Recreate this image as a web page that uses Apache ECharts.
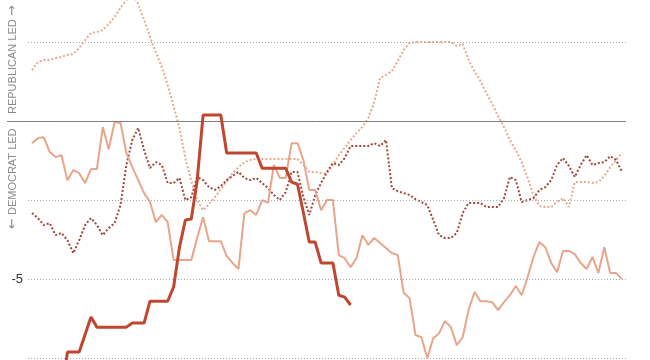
<!DOCTYPE html>
<html><head><meta charset="utf-8">
<script src="https://cdn.jsdelivr.net/npm/echarts@6/dist/echarts.min.js"></script>
<style>html,body{margin:0;padding:0;background:#fff}#c{width:650px;height:360px}</style>
</head><body><div id="c"></div>
<script>
// Day index 0..100 (shared x positions of the daily series)
const dayCount = 101;

// Light dotted series
const lightDotted = [
  1.61, 1.87, 1.93, 1.93, 1.99, 2.03, 2.09, 2.12, 2.31, 2.56,
  2.78, 2.82, 2.88, 3.07, 3.29, 3.58, 3.83, 4.05, 3.70, 3.20,
  2.66, 2.18, 1.71, 1.14, 0.47, -0.22, -1.17, -1.90, -2.50, -2.82,
  -2.63, -2.41, -2.15, -1.90, -1.65, -1.46, -1.30, -1.23, -1.20, -1.20,
  -1.20, -1.20, -1.20, -1.20, -1.20, -1.20, -1.39, -1.61, -1.61, -1.65,
  -1.65, -1.39, -1.08, -0.85, -0.60, -0.38, -0.19, 0.09, 0.60, 1.36,
  1.46, 1.58, 1.90, 2.25, 2.47, 2.50, 2.50, 2.50, 2.50, 2.50,
  2.50, 2.50, 2.37, 2.44, 1.93, 1.58, 1.27, 0.89, 0.54, 0.16,
  -0.19, -0.60, -0.92, -1.30, -1.80, -2.34, -2.69, -2.72, -2.72, -2.56,
  -2.44, -2.72, -1.93, -1.93, -1.93, -1.96, -1.93, -1.74, -1.46, -1.23,
  -1.01
];

// Light solid series
const lightSolid = [
  -0.70, -0.54, -0.51, -0.98, -1.14, -1.08, -1.87, -1.55, -1.65, -1.96,
  -1.52, -1.52, -0.19, -0.89, -0.03, -0.06, -1.01, -1.46, -1.87, -2.28,
  -2.56, -3.20, -2.97, -3.20, -4.40, -4.40, -4.40, -4.40, -3.70, -3.04,
  -3.80, -3.80, -3.80, -4.27, -4.49, -4.68, -2.91, -2.82, -2.97, -2.50,
  -2.59, -1.39, -1.80, -1.80, -0.70, -0.70, -1.23, -2.18, -2.18, -2.82,
  -2.50, -2.50, -4.24, -4.34, -4.62, -4.34, -3.61, -3.92, -3.70, -3.86,
  -4.02, -4.18, -4.24, -5.44, -5.60, -6.77, -6.84, -7.50, -6.87, -6.71,
  -6.33, -6.52, -7.09, -6.84, -5.98, -5.41, -5.70, -5.70, -5.73, -5.98,
  -5.73, -5.51, -5.22, -5.51, -4.94, -4.30, -3.83, -3.99, -4.49, -4.78,
  -4.11, -4.11, -4.21, -4.49, -4.68, -4.30, -4.81, -3.99, -4.81, -4.81,
  -5.00
];

// Dark dotted series
const darkDotted = [
  -2.91, -3.07, -3.29, -3.23, -3.61, -3.54, -3.77, -4.18, -3.77, -3.29,
  -3.07, -3.29, -3.61, -3.39, -3.23, -2.66, -1.39, -0.60, -0.22, -0.92,
  -1.49, -1.30, -1.39, -1.96, -1.96, -1.80, -2.50, -2.41, -1.77, -1.87,
  -2.09, -2.18, -2.06, -1.87, -1.74, -1.61, -1.80, -1.87, -1.80, -1.96,
  -2.12, -2.34, -2.50, -2.25, -1.61, -1.61, -2.41, -2.97, -2.34, -1.96,
  -1.61, -1.33, -1.39, -1.17, -0.79, -0.79, -0.79, -0.79, -0.70, -0.79,
  -0.60, -2.12, -2.22, -2.28, -2.34, -2.47, -2.56, -2.66, -3.13, -3.61,
  -3.70, -3.70, -3.54, -2.91, -2.59, -2.59, -2.59, -2.72, -2.72, -2.72,
  -2.44, -1.77, -1.87, -2.56, -2.50, -2.44, -2.18, -2.09, -1.87, -1.39,
  -1.17, -1.42, -1.77, -1.39, -1.08, -1.39, -1.33, -1.30, -1.11, -1.23,
  -1.61
];

// Thick dark series: [day, value] at its changes
const thickDays   = [5, 6, 8, 10, 11, 16, 17, 19, 20, 23, 24, 25, 26, 27, 28, 29, 32, 33, 38, 39, 43, 44, 45, 46, 47, 48, 49, 51, 52, 53, 54];
const thickValues = [-8.8, -7.31, -7.31, -6.20, -6.52, -6.52, -6.39, -6.39, -5.70, -5.70, -5.25, -3.99, -3.13, -3.10, -1.87, 0.19, 0.19, -1.01, -1.01, -1.49, -1.49, -1.93, -2.00, -2.90, -3.83, -3.83, -4.49, -4.49, -5.51, -5.57, -5.82];

// Horizontal reference lines and the one visible tick label
const gridValues = [2.5, -2.5, -5, -7.5];
const zeroValue = 0;
const tickLabels = { '-5': '-5' };

const X_MIN = -4.237, X_MAX = 100.68, GRID_START = -0.68;
const Y_MIN = -7.56, Y_MAX = 3.83;

const days = Array.from({ length: dayCount }, (_, i) => i);
const pair = (vals) => days.map((d, i) => [d, vals[i]]);

const chart = echarts.init(document.getElementById('c'), null, { renderer: 'canvas' });

const markLines = gridValues.map(v => ([
  { coord: [GRID_START, v],
    lineStyle: { color: '#a8a8a8', width: 1, type: [1, 2] },
    label: tickLabels[String(v)] ? {
      show: true, position: 'start', distance: 5, formatter: tickLabels[String(v)],
      color: '#333', fontSize: 13, fontFamily: 'Liberation Sans, Arial, sans-serif'
    } : { show: false } },
  { coord: [X_MAX, v] }
]));
markLines.push([
  { coord: [X_MIN, zeroValue], lineStyle: { color: '#808080', width: 1, type: 'solid' }, label: { show: false } },
  { coord: [X_MAX, zeroValue] }
]);

const FONT = 'Liberation Sans, Arial, sans-serif';
const sideRich = {
  t: { fill: '#8a8a8a', fontSize: 11, fontFamily: FONT },
  a: { fill: '#8a8a8a', fontSize: 13, fontFamily: 'DejaVu Sans, sans-serif' }
};

chart.setOption({
  animation: false,
  backgroundColor: '#fff',
  grid: { left: 7, right: 24, top: 0, bottom: 0 },
  xAxis: { type: 'value', min: X_MIN, max: X_MAX, show: false },
  yAxis: { type: 'value', min: Y_MIN, max: Y_MAX, show: false },
  graphic: [
    { type: 'text', x: 13, y: 114, rotation: Math.PI / 2,
      style: { text: '{t|REPUBLICAN LED} {a|→}', rich: sideRich, fill: '#8a8a8a', fontSize: 11,
        fontFamily: FONT, align: 'left', verticalAlign: 'middle' } },
    { type: 'text', x: 13, y: 229, rotation: Math.PI / 2,
      style: { text: '{a|←} {t|DEMOCRAT LED}', rich: sideRich, fill: '#8a8a8a', fontSize: 11,
        fontFamily: FONT, align: 'left', verticalAlign: 'middle' } }
  ],
  series: [
    { type: 'line', data: [], z: 1, silent: true,
      markLine: { silent: true, symbol: ['none', 'none'], animation: false, data: markLines } },
    { type: 'line', data: pair(lightDotted), showSymbol: false, z: 2, clip: true,
      lineStyle: { color: '#e6a991', width: 2, type: [2, 2] } },
    { type: 'line', data: pair(darkDotted), showSymbol: false, z: 3, clip: true,
      lineStyle: { color: '#a3453a', width: 2, type: [2, 2] } },
    { type: 'line', data: pair(lightSolid), showSymbol: false, z: 4, clip: true,
      lineStyle: { color: '#e8a58b', width: 2 } },
    { type: 'line', data: thickDays.map((d, i) => [d, thickValues[i]]), showSymbol: false, z: 5, clip: true,
      lineStyle: { color: '#c0462f', width: 3 } }
  ]
});
</script></body></html>
